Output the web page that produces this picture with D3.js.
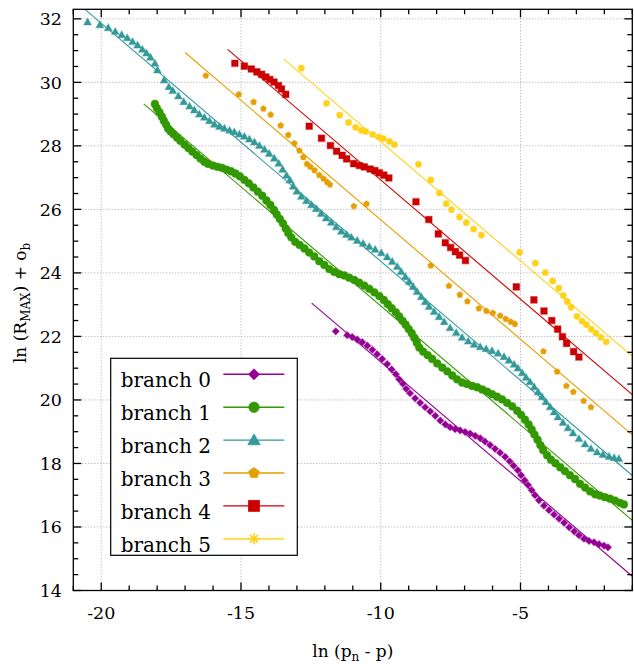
<!DOCTYPE html>
<html lang="en">
<head>
<meta charset="UTF-8">
<title>branches</title>
<script src="https://d3js.org/d3.v7.min.js"></script>
<style>
  body { margin: 0; background: #fff; }
  svg { display: block; font-family: "DejaVu Serif", serif; }
</style>
</head>
<body>
<script>
// legend labels
const labels = ["branch 0", "branch 1", "branch 2", "branch 3", "branch 4", "branch 5"];

// branch 0 (purple diamonds)
const branch0 = [[-11.61,22.16],[-11.20,22.04],[-11.02,21.98],[-10.84,21.90],[-10.66,21.82],[-10.48,21.71],[-10.30,21.58],[-10.13,21.44],[-9.95,21.29],[-9.77,21.13],[-9.61,20.96],[-9.46,20.81],[-9.34,20.65],[-9.21,20.51],[-9.09,20.35],[-8.95,20.21],[-8.77,20.05],[-8.59,19.91],[-8.41,19.77],[-8.23,19.64],[-8.05,19.50],[-7.87,19.35],[-7.69,19.23],[-7.52,19.14],[-7.34,19.08],[-7.16,19.04],[-6.98,18.99],[-6.80,18.94],[-6.62,18.87],[-6.44,18.79],[-6.27,18.69],[-6.09,18.58],[-5.91,18.46],[-5.73,18.34],[-5.55,18.21],[-5.39,18.07],[-5.25,17.93],[-5.10,17.79],[-4.98,17.63],[-4.85,17.47],[-4.73,17.32],[-4.60,17.16],[-4.48,17.00],[-4.34,16.84],[-4.16,16.67],[-3.98,16.53],[-3.80,16.39],[-3.62,16.26],[-3.44,16.13],[-3.26,15.99],[-3.08,15.86],[-2.91,15.74],[-2.73,15.63],[-2.55,15.56],[-2.37,15.52],[-2.19,15.46],[-2.01,15.41],[-1.87,15.36]];

// branch 1 (green circles)
const branch1 = [[-18.08,29.32],[-18.01,29.19],[-17.92,29.06],[-17.83,28.92],[-17.76,28.79],[-17.68,28.67],[-17.61,28.55],[-17.52,28.46],[-17.42,28.37],[-17.29,28.26],[-17.17,28.16],[-17.02,28.04],[-16.88,27.93],[-16.74,27.82],[-16.59,27.71],[-16.45,27.60],[-16.31,27.50],[-16.17,27.43],[-16.00,27.38],[-15.84,27.34],[-15.68,27.31],[-15.52,27.25],[-15.36,27.20],[-15.20,27.13],[-15.04,27.04],[-14.88,26.93],[-14.72,26.82],[-14.56,26.69],[-14.40,26.56],[-14.24,26.43],[-14.09,26.28],[-13.95,26.14],[-13.82,25.98],[-13.72,25.84],[-13.61,25.70],[-13.50,25.56],[-13.40,25.40],[-13.31,25.26],[-13.20,25.12],[-13.06,24.98],[-12.90,24.88],[-12.73,24.77],[-12.56,24.64],[-12.38,24.52],[-12.20,24.37],[-12.02,24.25],[-11.84,24.12],[-11.66,24.03],[-11.48,23.96],[-11.30,23.92],[-11.13,23.85],[-10.95,23.78],[-10.77,23.69],[-10.59,23.60],[-10.41,23.50],[-10.23,23.39],[-10.05,23.27],[-9.89,23.15],[-9.75,23.02],[-9.61,22.89],[-9.46,22.76],[-9.34,22.63],[-9.22,22.49],[-9.11,22.37],[-9.00,22.23],[-8.89,22.10],[-8.80,21.96],[-8.71,21.80],[-8.62,21.65],[-8.48,21.52],[-8.32,21.41],[-8.16,21.29],[-7.98,21.15],[-7.80,21.02],[-7.62,20.90],[-7.44,20.77],[-7.27,20.65],[-7.09,20.55],[-6.91,20.50],[-6.73,20.44],[-6.55,20.40],[-6.37,20.33],[-6.19,20.26],[-6.02,20.18],[-5.84,20.10],[-5.66,20.02],[-5.48,19.91],[-5.30,19.80],[-5.12,19.66],[-4.98,19.53],[-4.84,19.38],[-4.71,19.23],[-4.60,19.07],[-4.50,18.91],[-4.39,18.75],[-4.29,18.58],[-4.19,18.42],[-4.05,18.26],[-3.91,18.12],[-3.75,18.01],[-3.58,17.88],[-3.41,17.76],[-3.23,17.63],[-3.05,17.51],[-2.87,17.36],[-2.69,17.24],[-2.51,17.12],[-2.33,17.03],[-2.16,16.99],[-1.98,16.94],[-1.80,16.89],[-1.62,16.83],[-1.44,16.76],[-1.30,16.71]];

// branch 2 (teal triangles)
const branch2 = [[-20.49,31.90],[-20.05,31.81],[-19.75,31.72],[-19.50,31.60],[-19.27,31.50],[-19.07,31.40],[-18.88,31.28],[-18.70,31.17],[-18.53,31.04],[-18.38,30.92],[-18.24,30.79],[-18.08,30.60],[-17.99,30.39],[-17.75,30.07],[-17.58,29.86],[-17.44,29.74],[-17.24,29.57],[-17.05,29.39],[-16.84,29.25],[-16.67,29.13],[-16.49,29.00],[-16.31,28.90],[-16.13,28.79],[-15.95,28.68],[-15.77,28.61],[-15.59,28.55],[-15.41,28.49],[-15.24,28.44],[-15.06,28.37],[-14.88,28.30],[-14.70,28.21],[-14.52,28.12],[-14.34,28.01],[-14.16,27.89],[-13.99,27.76],[-13.81,27.61],[-13.65,27.45],[-13.51,27.26],[-13.37,27.07],[-13.25,26.92],[-13.13,26.73],[-13.00,26.57],[-12.84,26.41],[-12.66,26.27],[-12.48,26.14],[-12.31,26.02],[-12.13,25.87],[-11.95,25.73],[-11.77,25.59],[-11.59,25.45],[-11.41,25.31],[-11.23,25.21],[-11.05,25.12],[-10.84,25.02],[-10.63,24.93],[-10.41,24.83],[-10.20,24.74],[-9.98,24.63],[-9.77,24.50],[-9.59,24.36],[-9.41,24.20],[-9.27,24.04],[-9.12,23.88],[-8.98,23.73],[-8.84,23.57],[-8.70,23.41],[-8.55,23.25],[-8.41,23.09],[-8.27,22.94],[-8.09,22.78],[-7.91,22.62],[-7.73,22.46],[-7.52,22.27],[-7.30,22.12],[-7.09,21.97],[-6.87,21.85],[-6.66,21.75],[-6.44,21.67],[-6.23,21.61],[-6.02,21.55],[-5.80,21.47],[-5.59,21.36],[-5.41,21.25],[-5.23,21.12],[-5.09,21.00],[-4.94,20.85],[-4.80,20.71],[-4.66,20.57],[-4.51,20.41],[-4.37,20.25],[-4.23,20.10],[-4.09,19.94],[-3.94,19.78],[-3.80,19.62],[-3.66,19.46],[-3.48,19.29],[-3.30,19.12],[-3.12,18.96],[-2.91,18.78],[-2.69,18.61],[-2.48,18.47],[-2.26,18.36],[-2.05,18.28],[-1.83,18.22],[-1.65,18.18],[-1.48,18.15]];

// branch 3 (orange pentagons)
const branch3 = [[-16.26,30.21],[-15.08,29.62],[-14.55,29.38],[-14.20,29.17],[-13.94,28.98],[-13.58,28.64],[-13.31,28.34],[-13.09,28.08],[-12.91,27.85],[-12.77,27.64],[-12.64,27.43],[-12.52,27.34],[-12.37,27.23],[-12.20,27.08],[-12.05,26.97],[-11.92,26.86],[-11.82,26.78],[-10.96,26.10],[-10.51,26.17],[-8.21,24.23],[-7.56,23.59],[-7.17,23.31],[-6.90,23.10],[-6.49,22.88],[-6.22,22.80],[-5.99,22.74],[-5.73,22.65],[-5.53,22.55],[-5.35,22.46],[-5.20,22.39],[-4.18,21.53],[-3.69,20.89],[-3.36,20.44],[-3.11,20.25],[-2.74,19.97],[-2.48,19.77]];

// branch 4 (red squares)
const branch4 = [[-15.22,30.60],[-14.88,30.51],[-14.63,30.42],[-14.43,30.33],[-14.26,30.25],[-14.11,30.17],[-13.97,30.09],[-13.82,30.01],[-13.66,29.90],[-13.55,29.79],[-13.40,29.62],[-12.56,28.62],[-12.12,28.24],[-11.80,28.01],[-11.58,27.83],[-11.38,27.70],[-11.22,27.59],[-10.97,27.44],[-10.76,27.38],[-10.59,27.34],[-10.38,27.27],[-10.21,27.22],[-10.05,27.15],[-9.89,27.08],[-9.71,26.99],[-8.74,26.24],[-8.28,25.68],[-7.94,25.23],[-7.69,24.95],[-7.50,24.80],[-7.33,24.67],[-7.18,24.56],[-6.97,24.39],[-5.15,23.56],[-4.52,23.15],[-4.16,22.80],[-3.88,22.50],[-3.67,22.23],[-3.50,21.99],[-3.35,21.78],[-3.10,21.52],[-2.91,21.35]];

// branch 5 (yellow stars)
const branch5 = [[-12.84,30.45],[-11.94,29.34],[-11.47,28.97],[-11.15,28.74],[-10.90,28.58],[-10.70,28.49],[-10.54,28.45],[-10.29,28.36],[-10.07,28.28],[-9.91,28.23],[-9.69,28.14],[-9.51,28.04],[-8.65,27.42],[-8.21,26.93],[-7.90,26.52],[-7.66,26.18],[-7.47,25.99],[-7.18,25.76],[-6.94,25.58],[-6.68,25.38],[-6.40,25.19],[-5.03,24.65],[-4.47,24.31],[-4.11,24.01],[-3.85,23.75],[-3.63,23.52],[-3.47,23.29],[-3.33,23.10],[-3.19,22.92],[-2.98,22.63],[-2.80,22.48],[-2.64,22.37],[-2.47,22.23],[-2.30,22.11],[-2.13,21.97],[-1.93,21.83]];

// fitted lines, [x0, y0, x1, y1] per branch
const fits = [
  [-12.47, 23.05, -1.0, 14.45],
  [-18.48, 29.32, -1.0, 16.21],
  [-20.56, 32.28, -1.0, 17.62],
  [-17.00, 30.94, -1.0, 18.90],
  [-15.48, 31.04, -1.0, 20.17],
  [-13.47, 30.73, -1.0, 21.38]
];

const xTicks = [-20, -15, -10, -5];
const yTicks = [14, 16, 18, 20, 22, 24, 26, 28, 30, 32];

const series = [branch0, branch1, branch2, branch3, branch4, branch5];
const colors = ["#940094", "#339900", "#339999", "#e69f00", "#cc0000", "#ffd21a"];
const kinds = ["diamond", "circle", "triangle", "pentagon", "square", "star"];
const plotR = [3.6, 3.9, 3.9, 3.2, 3.3, 3.4];
const legR = [5.5, 5.2, 6.2, 5.5, 5.5, 5.5];

const W = 634, H = 665;
const pLeft = 73.3, pRight = 632.3, pTop = 9.3, pBottom = 590.5;

const x = d3.scaleLinear().domain([-21, -1]).range([pLeft, pRight]);
const y = d3.scaleLinear().domain([14, 32.3]).range([pBottom, pTop]);

const svg = d3.select("body").append("svg").attr("width", W).attr("height", H);

// marker shapes
function marker(kind, r) {
  const p = d3.path();
  if (kind === "diamond") {
    p.moveTo(0, -r); p.lineTo(r, 0); p.lineTo(0, r); p.lineTo(-r, 0); p.closePath();
  } else if (kind === "circle") {
    p.arc(0, 0, r, 0, 2 * Math.PI);
  } else if (kind === "triangle") {
    p.moveTo(0, -r); p.lineTo(r, r * 0.75); p.lineTo(-r, r * 0.75); p.closePath();
  } else if (kind === "pentagon") {
    for (let i = 0; i < 5; i++) {
      const a = -Math.PI / 2 + i * 2 * Math.PI / 5;
      if (i === 0) p.moveTo(r * Math.cos(a), r * Math.sin(a));
      else p.lineTo(r * Math.cos(a), r * Math.sin(a));
    }
    p.closePath();
  } else if (kind === "square") {
    p.rect(-r, -r, 2 * r, 2 * r);
  } else {
    for (let i = 0; i < 4; i++) {
      const a = i * Math.PI / 4;
      p.moveTo(-r * Math.cos(a), -r * Math.sin(a));
      p.lineTo(r * Math.cos(a), r * Math.sin(a));
    }
  }
  return p.toString();
}

// grid
const grid = svg.append("g").attr("stroke", "#a8a8a8").attr("stroke-width", 1).attr("stroke-dasharray", "1,2");
xTicks.forEach(t => {
  grid.append("line").attr("x1", x(t)).attr("x2", x(t)).attr("y1", pTop).attr("y2", pBottom);
});
yTicks.filter(t => t > 14).forEach(t => {
  grid.append("line").attr("x1", pLeft).attr("x2", pRight).attr("y1", y(t)).attr("y2", y(t));
});

// clip
svg.append("clipPath").attr("id", "clip").append("rect")
  .attr("x", pLeft).attr("y", pTop).attr("width", pRight - pLeft).attr("height", pBottom - pTop);

const plot = svg.append("g").attr("clip-path", "url(#clip)");

series.forEach((data, i) => {
  const g = plot.append("g");
  const star = kinds[i] === "star";
  if (star) {
    // pale box behind each asterisk
    g.selectAll("rect")
      .data(data)
      .enter()
      .append("rect")
      .attr("x", d => x(d[0]) - 3).attr("y", d => y(d[1]) - 3)
      .attr("width", 6).attr("height", 6)
      .attr("fill", "#ffe680").attr("opacity", 0.6);
  }
  g.selectAll("path")
    .data(data)
    .enter()
    .append("path")
    .attr("transform", d => "translate(" + x(d[0]) + "," + y(d[1]) + ")")
    .attr("d", marker(kinds[i], plotR[i]))
    .attr("fill", star ? "none" : colors[i])
    .attr("stroke", colors[i])
    .attr("stroke-opacity", star ? 1 : 0.35)
    .attr("stroke-width", star ? 1.8 : 1.2);
});

// fit lines on top
fits.forEach((f, i) => {
  plot.append("line")
    .attr("x1", x(f[0])).attr("y1", y(f[1]))
    .attr("x2", x(f[2])).attr("y2", y(f[3]))
    .attr("stroke", colors[i]).attr("stroke-width", 1.1);
});

// frame and ticks
const axes = svg.append("g").attr("stroke", "#000").attr("stroke-width", 1.3);
axes.append("rect").attr("x", pLeft).attr("y", pTop).attr("width", pRight - pLeft).attr("height", pBottom - pTop).attr("fill", "none");

d3.range(-21, -0.99, 1).forEach(t => {
  const len = xTicks.includes(t) ? 8 : 5;
  axes.append("line").attr("x1", x(t)).attr("x2", x(t)).attr("y1", pBottom).attr("y2", pBottom - len);
  axes.append("line").attr("x1", x(t)).attr("x2", x(t)).attr("y1", pTop).attr("y2", pTop + len);
});
d3.range(14, 32.31, 0.5).forEach(t => {
  const len = yTicks.includes(t) ? 8 : 5;
  axes.append("line").attr("x1", pLeft).attr("x2", pLeft + len).attr("y1", y(t)).attr("y2", y(t));
  axes.append("line").attr("x1", pRight).attr("x2", pRight - len).attr("y1", y(t)).attr("y2", y(t));
});

// tick labels
svg.append("g").selectAll("text").data(xTicks).enter().append("text")
  .attr("x", d => x(d)).attr("y", 619)
  .attr("text-anchor", "middle").attr("font-size", 17.5)
  .text(d => d);

svg.append("g").selectAll("text").data(yTicks).enter().append("text")
  .attr("x", 62).attr("y", d => y(d) + 6.3)
  .attr("text-anchor", "end").attr("font-size", 17.5)
  .text(d => d);

// axis titles
const xl = svg.append("text").attr("x", (pLeft + pRight) / 2).attr("y", 657)
  .attr("text-anchor", "middle").attr("font-size", 17);
xl.append("tspan").text("ln (p");
xl.append("tspan").attr("dy", 4).attr("font-size", 12).text("n");
xl.append("tspan").attr("dy", -4).text(" - p)");

const yl = svg.append("text").attr("transform", "translate(26," + ((pTop + pBottom) / 2 + 3) + ") rotate(-90)")
  .attr("text-anchor", "middle").attr("font-size", 17);
yl.append("tspan").text("ln (R");
yl.append("tspan").attr("dy", 4).attr("font-size", 12).text("MAX");
yl.append("tspan").attr("dy", -4).text(") + o");
yl.append("tspan").attr("dy", 4).attr("font-size", 12).text("b");

// legend
const leg = svg.append("g");
leg.append("rect").attr("x", 110.7).attr("y", 358.3).attr("width", 186.6).attr("height", 197)
  .attr("fill", "#fff").attr("stroke", "#000").attr("stroke-width", 1.2);

labels.forEach((lab, i) => {
  const cy = 374.3 + i * 32.9;
  leg.append("text").attr("x", 120.7).attr("y", cy + 13).attr("font-size", 20).text(lab);
  leg.append("line").attr("x1", 223.3).attr("x2", 284.3).attr("y1", cy).attr("y2", cy)
    .attr("stroke", colors[i]).attr("stroke-width", i === 5 ? 2.2 : 1.4)
    .attr("stroke-opacity", i === 5 ? 0.7 : 1);
  leg.append("path").attr("transform", "translate(254," + cy + ")")
    .attr("d", marker(kinds[i], legR[i]))
    .attr("fill", kinds[i] === "star" ? "none" : colors[i])
    .attr("stroke", colors[i])
    .attr("stroke-width", kinds[i] === "star" ? 1.6 : 0.8);
});
</script>
</body>
</html>
